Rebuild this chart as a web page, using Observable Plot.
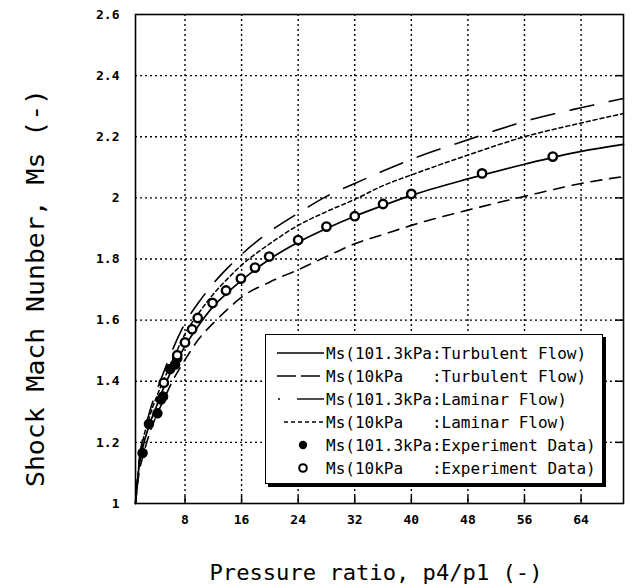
<!DOCTYPE html>
<html>
<head>
<meta charset="utf-8">
<script src="https://cdn.jsdelivr.net/npm/d3@7"></script>
<script src="https://cdn.jsdelivr.net/npm/@observablehq/plot@0.6"></script>
<style>
  body { margin: 0; background: #fff; }
  #wrap { position: relative; width: 632px; height: 586px; }
  #legend { position: absolute; left: 265px; top: 334px; width: 336px; height: 148px;
            border: 1.5px solid #000; background: #fff; box-shadow: 3px 3px 0 #000; }
  text { font-family: "DejaVu Sans Mono", monospace; }
</style>
</head>
<body>
<div id="wrap"></div>
<script>
// Pressure ratio p4/p1 sample points for the calculated curves
const xs = [1, 1.5, 2, 3, 4, 5, 6, 8, 10, 12, 14, 16, 20, 24, 28, 32, 36, 40, 48, 56, 64, 70];
// Ms(101.3kPa : Turbulent Flow) - solid
const turb101 = [1, 1.12, 1.18, 1.26, 1.32, 1.38, 1.43, 1.515, 1.585, 1.645, 1.69, 1.73, 1.80, 1.855, 1.90, 1.94, 1.975, 2.008, 2.062, 2.11, 2.152, 2.175];
// Ms(10kPa : Turbulent Flow) - long dash (lowest)
const turb10 = [1, 1.1, 1.15, 1.23, 1.29, 1.34, 1.39, 1.47, 1.54, 1.59, 1.635, 1.675, 1.725, 1.765, 1.808, 1.85, 1.88, 1.91, 1.96, 2.005, 2.047, 2.07];
// Ms(101.3kPa : Laminar Flow) - long dash (highest)
const lam101 = [1, 1.14, 1.21, 1.30, 1.37, 1.43, 1.49, 1.59, 1.66, 1.72, 1.77, 1.815, 1.89, 1.95, 2.005, 2.047, 2.088, 2.126, 2.19, 2.25, 2.295, 2.325];
// Ms(10kPa : Laminar Flow) - short dash
const lam10 = [1, 1.13, 1.20, 1.285, 1.35, 1.405, 1.455, 1.555, 1.625, 1.685, 1.735, 1.78, 1.85, 1.91, 1.955, 1.995, 2.04, 2.075, 2.14, 2.20, 2.245, 2.276];

// Experiment data
const exp101X = [2.0, 2.9, 4.1, 4.6, 4.9, 5.9, 6.6, 6.9];
const exp101Ms = [1.165, 1.26, 1.295, 1.34, 1.35, 1.44, 1.455, 1.475];
const exp10X = [5.0, 6.9, 8.0, 9.0, 9.8, 11.9, 13.8, 15.9, 17.9, 19.9, 24, 28, 32, 36, 40, 50, 60];
const exp10Ms = [1.395, 1.485, 1.527, 1.57, 1.607, 1.656, 1.697, 1.736, 1.772, 1.808, 1.862, 1.906, 1.94, 1.98, 2.013, 2.08, 2.135];

// Ticks
const xTicks = [8, 16, 24, 32, 40, 48, 56, 64];
const yTicks = [1, 1.2, 1.4, 1.6, 1.8, 2, 2.2, 2.4, 2.6];
const yGrid = [1.2, 1.4, 1.6, 1.8, 2, 2.2, 2.4];

// Labels
const xLabel = "Pressure ratio, p4/p1 (-)";
const yLabel = "Shock Mach Nunber, Ms (-)";
const legendLabels = [
  "Ms(101.3kPa:Turbulent Flow)",
  "Ms(10kPa   :Turbulent Flow)",
  "Ms(101.3kPa:Laminar Flow)",
  "Ms(10kPa   :Laminar Flow)",
  "Ms(101.3kPa:Experiment Data)",
  "Ms(10kPa   :Experiment Data)"
];

const pts = (X, Y) => X.map((x, i) => ({x, y: Y[i]}));
const curveOpts = {x: "x", y: "y", curve: "monotone-x", stroke: "#000"};

const chart = Plot.plot({
  width: 632,
  height: 586,
  marginLeft: 135,
  marginRight: 9,
  marginTop: 14,
  marginBottom: 83,
  style: {fontFamily: "DejaVu Sans Mono, monospace", fontSize: "13px", fontWeight: "bold", background: "#fff", color: "#000"},
  x: {domain: [1, 70], ticks: xTicks, tickSize: 0, tickPadding: 11, label: null, tickFormat: d => String(d)},
  y: {domain: [1, 2.6], ticks: yTicks, tickSize: 0, tickPadding: 16, label: null, tickFormat: d => String(d)},
  marks: [
    Plot.ruleX(xTicks, {x: d => d, stroke: "#000", strokeWidth: 1.4, strokeDasharray: "2,3"}),
    Plot.ruleY(yGrid, {y: d => d, stroke: "#000", strokeWidth: 1.4, strokeDasharray: "2,3"}),
    Plot.tickX(xTicks, {x: d => d, insetTop: 482, stroke: "#000", strokeWidth: 1.5}),
    Plot.tickY(yGrid, {y: d => d, insetLeft: 480, stroke: "#000", strokeWidth: 1.5}),
    Plot.line(pts(xs, turb10), {...curveOpts, strokeWidth: 1.6, strokeDasharray: "11,8"}),
    Plot.line(pts(xs, lam101), {...curveOpts, strokeWidth: 1.6, strokeDasharray: "24,16"}),
    Plot.line(pts(xs, lam10), {...curveOpts, strokeWidth: 1.5, strokeDasharray: "4,3"}),
    Plot.line(pts(xs, turb101), {...curveOpts, strokeWidth: 1.7}),
    Plot.dot(pts(exp101X, exp101Ms), {x: "x", y: "y", r: 4.5, fill: "#000", stroke: "#000"}),
    Plot.dot(pts(exp10X, exp10Ms), {x: "x", y: "y", r: 4.2, fill: "#fff", stroke: "#000", strokeWidth: 2.4}),
    Plot.frame({stroke: "#000", strokeWidth: 1.6})
  ]
});

const svg = d3.select(chart);
svg.append("text")
  .attr("x", 376).attr("y", 580)
  .attr("text-anchor", "middle")
  .attr("font-size", 22)
  .attr("font-weight", "normal")
  .attr("textLength", 333)
  .attr("lengthAdjust", "spacingAndGlyphs")
  .attr("fill", "#000")
  .text(xLabel);
svg.append("text")
  .attr("transform", "translate(44,288) rotate(-90)")
  .attr("text-anchor", "middle")
  .attr("font-size", 24)
  .attr("font-weight", "normal")
  .attr("textLength", 398)
  .attr("lengthAdjust", "spacingAndGlyphs")
  .attr("fill", "#000")
  .text(yLabel);

document.getElementById("wrap").appendChild(chart);

// Legend
const legend = document.createElement("div");
legend.id = "legend";
const lsvg = d3.select(legend).append("svg").attr("width", 336).attr("height", 148);
const rowY = i => 18 + i * 23;
const samples = [
  {dash: null, w: 1.6},
  {dash: "19,5", w: 1.5},
  {dash: null, w: 1.4, dot: true},
  {dash: "4,3", w: 1.4},
  {dot101: true},
  {dot10: true}
];
samples.forEach((s, i) => {
  const y = rowY(i);
  if (s.dot101) {
    lsvg.append("circle").attr("cx", 37).attr("cy", y).attr("r", 4.2).attr("fill", "#000");
  } else if (s.dot10) {
    lsvg.append("circle").attr("cx", 37).attr("cy", y).attr("r", 3.8).attr("fill", "#fff").attr("stroke", "#000").attr("stroke-width", 2);
  } else {
    const x1 = s.dot ? 31 : (s.dash === "4,3" ? 18 : 11);
    const ln = lsvg.append("line").attr("x1", x1).attr("x2", 58).attr("y1", y).attr("y2", y)
      .attr("stroke", "#000").attr("stroke-width", s.w);
    if (s.dash) ln.attr("stroke-dasharray", s.dash);
    if (s.dot) lsvg.append("circle").attr("cx", 13).attr("cy", y).attr("r", 1).attr("fill", "#000");
  }
  lsvg.append("text").attr("x", 60).attr("y", y).attr("dy", "0.35em")
    .attr("font-size", 16).attr("fill", "#000")
    .style("white-space", "pre")
    .text(legendLabels[i]);
});
document.getElementById("wrap").appendChild(legend);
</script>
</body>
</html>
